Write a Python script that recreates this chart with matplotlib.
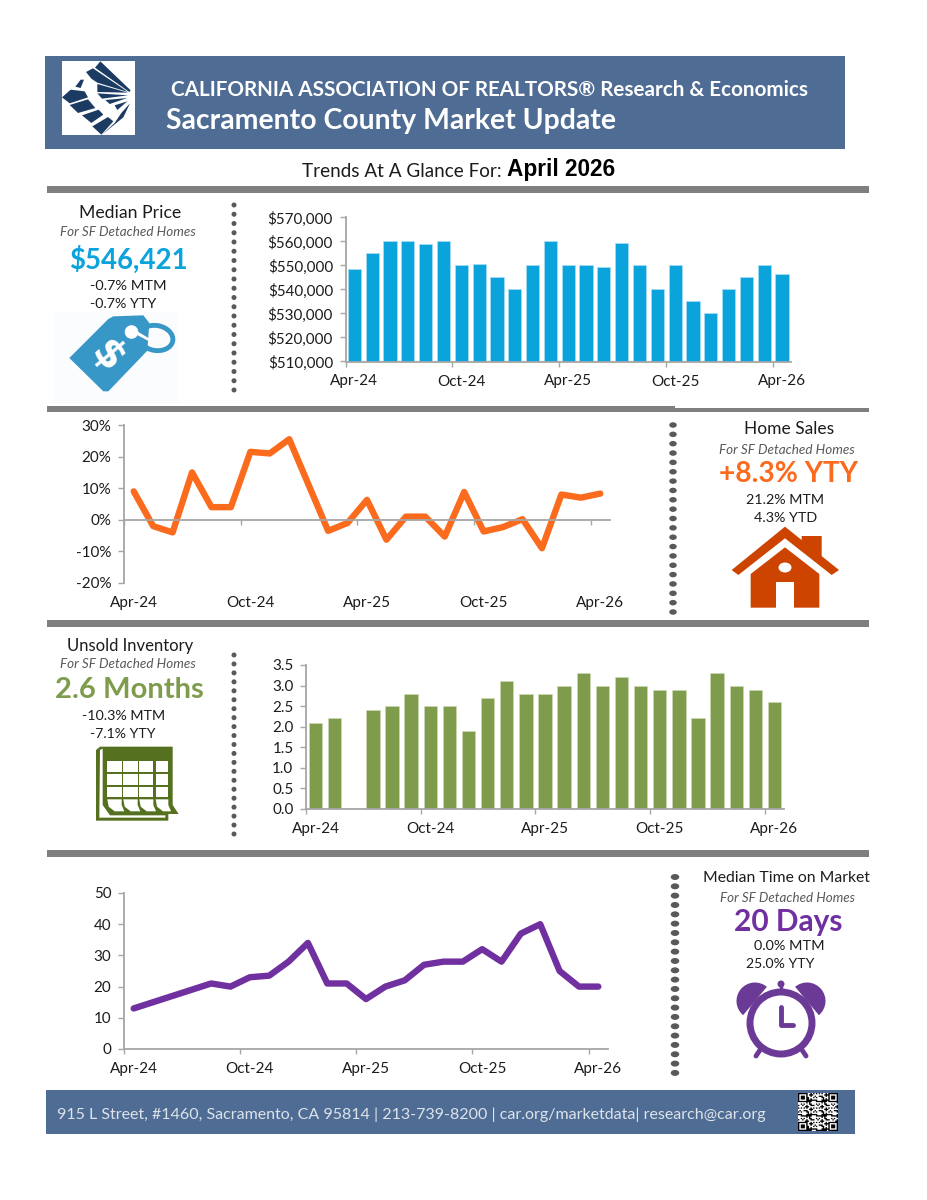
import numpy as np
import matplotlib
matplotlib.use("Agg")
import matplotlib.pyplot as plt
from matplotlib.patches import Polygon, Rectangle, Circle, Ellipse, Wedge

months = ["Apr-24", "Oct-24", "Apr-25", "Oct-25", "Apr-26"]
month_idx = [0, 6, 12, 18, 24]
price = [548500, 555000, 560000, 560000, 559000, 560000, 550000, 550500, 545000, 540000,
         550000, 560000, 550000, 550000, 549500, 559500, 550000, 540000, 550000, 535000,
         530000, 540000, 545000, 550000, 546421]
sales = [9, -2, -4, 15, 4, 4, 21.5, 21, 25.5, 11, -3.5, -1, 6.3, -6.3, 1, 1, -5.3, 8.8,
         -3.7, -2.3, 0.2, -9, 8, 7, 8.3]
inventory = [2.1, 2.2, np.nan, 2.4, 2.5, 2.8, 2.5, 2.5, 1.9, 2.7, 3.1, 2.8, 2.8, 3.0, 3.3,
             3.0, 3.2, 3.0, 2.9, 2.9, 2.2, 3.3, 3.0, 2.9, 2.6]
days = [13, 15, 17, 19, 21, 20, 23, 23.5, 28, 34, 21, 21, 16, 20, 22, 27, 28, 28, 32, 28,
        37, 40, 25, 20, 20]

plt.rcParams['font.family'] = ['Lato', 'DejaVu Sans']
W, H = 927, 1200
fig = plt.figure(figsize=(W / 100, H / 100), dpi=100, facecolor='white')
bg = fig.add_axes([0, 0, 1, 1])
bg.set_xlim(0, W); bg.set_ylim(H, 0); bg.axis('off')
rend = fig.canvas.get_renderer()

BAND = '#4F6D94'; GREY = '#7F7F80'; INK = '#1C1C1C'
BLUE = '#0AA3DC'; ORANGE = '#FB6B1E'; GREEN = '#7F9C4D'; PURPLE = '#7030A0'


def T(x0, x1, y, s, color=INK, **kw):
    t = bg.text((x0 + x1) / 2, y + 1.5, s, color=color, ha='center', va='center', fontsize=10, **kw)
    t.set_fontsize(10 * (x1 - x0) / t.get_window_extent(rend).width)
    return t


def R(x0, y0, x1, y1, c):
    bg.add_patch(Rectangle((x0, y0), x1 - x0, y1 - y0, fc=c, ec='none'))


def Z(pts, ox, oy, c, **kw):
    bg.add_patch(Polygon([(x / 3 + ox, y / 3 + oy) for x, y in pts], closed=True, fc=c,
                         ec=kw.pop('ec', 'none'), **kw))


# bands and rules
R(45, 56, 845, 149, BAND)
R(46, 1090, 855, 1134, BAND)
R(47, 186, 869, 193, GREY)
R(47, 406, 675, 412, GREY)
R(675, 408, 869, 412, GREY)
R(47, 620, 869, 627, GREY)
R(47, 850, 869, 857, GREY)

# logo
R(62, 61, 135, 135, 'white')
NAVY = '#1B3B63'
for poly in [
    [(127, 10), (218, 97), (214, 102), (111, 29)],
    [(84, 42), (105, 31), (210, 102), (118, 74), (100, 62)],
    [(118, 78), (210, 104), (118, 102)],
    [(118, 106), (210, 112), (132, 122)],
    [(142, 126), (208, 120), (155, 138)],
    [(170, 142), (208, 130), (178, 156)],
    [(12, 118), (38, 95), (80, 100), (90, 118), (35, 136)],
    [(35, 141), (90, 124), (112, 150), (60, 165)],
    [(72, 172), (122, 155), (136, 170), (100, 195)],
    [(103, 205), (150, 177), (166, 190), (130, 230)],
    [(132, 230), (170, 195), (190, 165), (216, 136), (196, 178)],
    [(52, 86), (68, 65), (78, 65), (68, 90)],
]:
    Z(poly, 58, 58, NAVY)

T(170, 810, 88, "CALIFORNIA ASSOCIATION OF REALTORS® Research & Economics", color='white', fontweight='bold')
T(166, 617, 120, "Sacramento County Market Update", color='white', fontweight='bold')
T(302, 501, 170, "Trends At A Glance For:")
T(507, 615, 168, "April 2026", color='black', fontweight='bold', family='Liberation Sans')

SUB = dict(color='#595959', style='italic')
T(79, 181, 212, "Median Price")
T(60, 196, 231, "For SF Detached Homes", **SUB)
T(69, 188, 258, "$546,421", color=BLUE, fontweight='bold')
T(90, 166, 284, "-0.7% MTM")
T(90, 156, 302, "-0.7% YTY")
T(744, 834, 428, "Home Sales")
T(719, 855, 448, "For SF Detached Homes", **SUB)
T(719, 858, 473, "+8.3% YTY", color=ORANGE, fontweight='bold')
T(746, 824, 499, "21.2% MTM")
T(754, 817, 517, "4.3% YTD")
T(67, 193, 644, "Unsold Inventory")
T(60, 196, 663, "For SF Detached Homes", **SUB)
T(55, 204, 689, "2.6 Months", color=GREEN, fontweight='bold')
T(82, 165, 715, "-10.3% MTM")
T(90, 155, 733, "-7.1% YTY")
T(703, 870, 876, "Median Time on Market")
T(720, 855, 896, "For SF Detached Homes", **SUB)
T(734, 843, 920, "20 Days", color=PURPLE, fontweight='bold')
T(754, 824, 945, "0.0% MTM")
T(746, 814, 963, "25.0% YTY")
T(58, 765, 1113, "915 L Street, #1460, Sacramento, CA 95814 | 213-739-8200 | car.org/marketdata| research@car.org",
  color='#DDE3EA')

# dotted dividers
for x, y0, y1, step, w, h in [(234, 205, 391, 9.25, 5, 5), (673, 425, 612, 9.35, 7.5, 5.5),
                              (234, 655, 834, 8.95, 5, 5), (675, 877, 1073, 9.33, 8.5, 6)]:
    for y in np.arange(y0, y1 + 0.1, step):
        bg.add_patch(Ellipse((x, y), w, h, fc='#595959', ec='none'))

# price tag
R(54, 312, 178, 404, '#FBFCFD')
TAG = '#3797C6'
bg.add_patch(Ellipse((156, 338), 34, 25, angle=10, fc='none', ec=TAG, lw=3.5))
Z([(58, 150), (175, 33), (190, 25), (280, 22), (298, 45), (292, 128), (175, 250), (160, 250)],
  50, 308, TAG, lw=3, joinstyle='round')
bg.add_patch(Circle((131.5, 332), 6.8, fc='white', ec='none'))
Z([(250, 75), (262, 70), (312, 100), (305, 104)], 50, 308, 'white')
bg.text(107, 357, "$", color='white', fontsize=29, fontweight='bold', rotation=-50,
        ha='center', va='center', rotation_mode='anchor', family='DejaVu Sans')

# house
HOUSE = '#CC4400'
Z([(425, 378), (485, 378), (485, 450), (425, 410)], 660, 410, HOUSE)
Z([(375, 350), (537, 480), (515, 495), (375, 385), (235, 495), (215, 480)], 660, 410, HOUSE)
Z([(375, 412), (478, 492), (478, 593), (272, 593), (272, 492)], 660, 410, HOUSE)
bg.add_patch(Ellipse((785, 567.5), 13, 10, fc='white', ec='none'))
Z([(348, 517), (403, 517), (403, 593), (348, 593)], 660, 410, 'white')

# calendar
CAL = '#55701F'
Z([(18, 30), (30, 20), (248, 20), (248, 195), (266, 222), (235, 222), (235, 242), (18, 242)], 90, 740, CAL)
Z([(30, 30), (38, 26), (38, 195), (60, 226), (226, 226), (226, 233), (28, 233)], 90, 740, 'white')
for x0, x1 in [(52, 95), (100, 143), (148, 190), (197, 235)]:
    for y0, y1 in [(62, 95), (102, 135), (142, 172)]:
        Z([(x0, y0), (x1, y0), (x1, y1), (x0, y1)], 90, 740, 'white')
    Z([(x0, 178), (x1, 178), (x1, 195), (x1 + 8, 214), (x0 + 22, 214), (x0 + 4, 200)], 90, 740, 'white')

# clock
CLK = '#6B3A96'
bg.add_patch(Wedge((755, 1001), 18.5, 130, 310, fc=CLK, ec='none'))
bg.add_patch(Wedge((807, 1001), 18.5, 230, 50, fc=CLK, ec='none'))
bg.add_patch(Circle((781, 1023), 31, fc='white', ec=CLK, lw=5))
bg.plot([781, 781], [984, 992], color=CLK, lw=2.5, solid_capstyle='round')
bg.add_patch(Circle((781, 984), 3.5, fc=CLK, ec='none'))
bg.plot([781, 781, 793], [1007, 1025, 1025], color=CLK, lw=3.5, solid_capstyle='round')
bg.plot([760, 756], [1050, 1056], color=CLK, lw=3.5, solid_capstyle='round')
bg.plot([802, 806], [1050, 1056], color=CLK, lw=3.5, solid_capstyle='round')

# QR decoration
n = 29
qr = np.array([[((i * i * 7 + j * j * 13 + i * j * 5 + i + 3 * j) % 11) < 5 for j in range(n)] for i in range(n)], float)
for a, b in [(0, 0), (0, n - 7), (n - 7, 0), (n - 7, n - 7)]:
    qr[a:a + 7, b:b + 7] = 1
    qr[a + 1:a + 6, b + 1:b + 6] = 0
    qr[a + 2:a + 5, b + 2:b + 5] = 1
qa = fig.add_axes([798 / W, 1 - 1131 / H, 40 / W, 38 / H])
qa.imshow(1 - qr, cmap='gray', aspect='auto', interpolation='antialiased', vmin=0, vmax=1)
qa.axis('off')

AX = '#A6A6A6'


def chart(l, t, r, b, ylim, yticks, ylabels):
    ax = fig.add_axes([l / W, 1 - b / H, (r - l) / W, (b - t) / H])
    ax.patch.set_alpha(0)
    for s in ['top', 'right']:
        ax.spines[s].set_visible(False)
    for s in ['left', 'bottom']:
        ax.spines[s].set_color(AX); ax.spines[s].set_linewidth(1.3)
    ax.set_xlim(-0.5, 24.5); ax.set_ylim(*ylim)
    ax.set_yticks(yticks, ylabels, fontsize=10.9, color=INK)
    ax.tick_params(axis='y', length=4, width=1, color=AX, pad=5)
    ax.set_xticks([i - 0.5 for i in month_idx], [''] * 5)
    ax.tick_params(axis='x', length=3.5, width=1, color=AX)
    tr = ax.get_xaxis_transform()
    for i, m in zip(month_idx, months):
        ax.text(i, -20 / (b - t), m, transform=tr, ha='center', va='center', fontsize=11, color=INK)
    return ax


x = np.arange(25)
a1 = chart(345.5, 217.5, 791, 361.5, (510000, 570000), np.arange(510000, 570001, 10000),
           [f"${v:,}" for v in range(510000, 570001, 10000)])
a1.bar(x, price, width=0.74, color=BLUE, edgecolor='#A8DDF2', linewidth=0.5)

a2 = chart(124, 425, 610, 583, (-20, 30), np.arange(-20, 31, 10),
           [f"{v}%" for v in range(-20, 31, 10)])
a2.spines['bottom'].set_position(('data', 0))
a2.plot(x, sales, color=ORANGE, lw=4.6, solid_capstyle='round', solid_joinstyle='round', clip_on=False)

a3 = chart(306, 665, 784, 809, (0, 3.5), np.arange(0, 3.51, 0.5),
           [f"{v:.1f}" for v in np.arange(0, 3.51, 0.5)])
a3.bar(x, inventory, width=0.70, color=GREEN, edgecolor='#CBD8B4', linewidth=0.5)

a4 = chart(124, 893, 608, 1049, (0, 50), np.arange(0, 51, 10), [str(v) for v in range(0, 51, 10)])
a4.plot(x, days, color=PURPLE, lw=4.6, solid_capstyle='round', solid_joinstyle='round')

fig.savefig('out.png', dpi=100, facecolor='white')
